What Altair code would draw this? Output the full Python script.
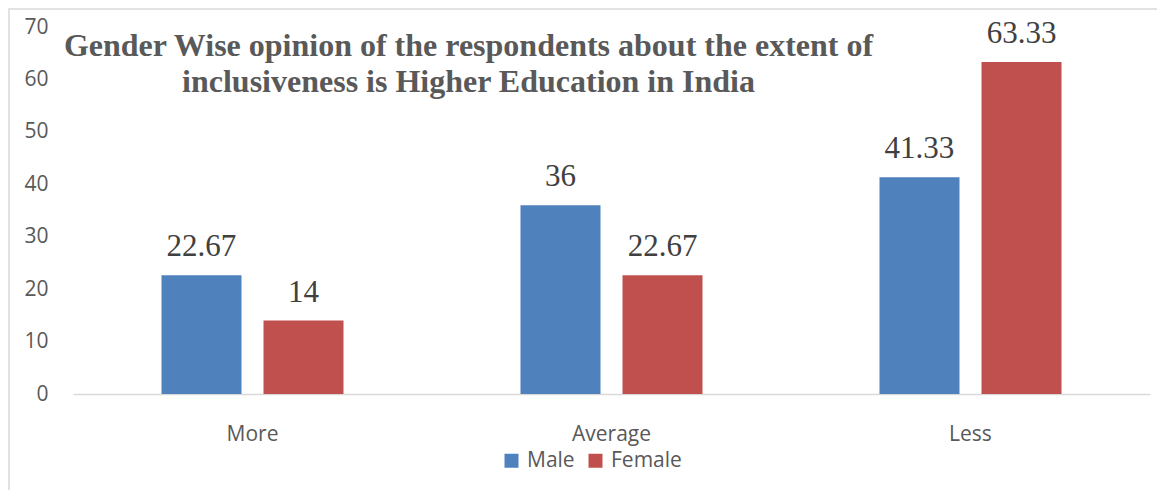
import altair as alt
import pandas as pd

categories = ["More", "Average", "Less"]
genders = ["Male", "Female"]
male_values = [22.67, 36, 41.33]
female_values = [14, 22.67, 63.33]
male_labels = ["22.67", "36", "41.33"]
female_labels = ["14", "22.67", "63.33"]
colors = ["#4F81BD", "#C0504D"]
title_lines = [
    "Gender Wise opinion of the respondents about the extent of",
    "inclusiveness is Higher Education in India",
]

rows = []
for i, c in enumerate(categories):
    rows.append({"category": c, "gender": "Male", "value": male_values[i], "label": male_labels[i]})
    rows.append({"category": c, "gender": "Female", "value": female_values[i], "label": female_labels[i]})
df = pd.DataFrame(rows)

W, H = 1077, 367

x_enc = alt.X("category:N", sort=categories, title=None,
              scale=alt.Scale(paddingInner=0.493, paddingOuter=0.2465),
              axis=alt.Axis(labelAngle=0, ticks=False, domainColor="#d9d9d9", domainWidth=1.5,
                            labelFont="Open Sans", labelFontSize=21, labelColor="#595959",
                            labelPadding=29, grid=False))
xo_enc = alt.XOffset("gender:N", sort=genders,
                     scale=alt.Scale(paddingInner=0.2157, paddingOuter=0))
y_enc = alt.Y("value:Q", title=None,
              scale=alt.Scale(domain=[0, 70], nice=False),
              axis=alt.Axis(values=list(range(0, 71, 10)), ticks=False, domain=False, grid=False,
                            labelFont="Open Sans", labelFontSize=21, labelColor="#595959",
                            labelPadding=25))

base = alt.Chart(df)

bars = base.mark_bar().encode(
    x=x_enc, xOffset=xo_enc, y=y_enc,
    color=alt.Color("gender:N", sort=genders,
                    scale=alt.Scale(domain=genders, range=colors),
                    legend=alt.Legend(title=None, orient="none", legendX=428, legendY=423,
                                      direction="horizontal", symbolType="square",
                                      symbolSize=196, symbolStrokeWidth=0,
                                      labelFont="Open Sans", labelFontSize=21,
                                      labelColor="#595959", columnPadding=10, labelOffset=5)),
)

labels = base.mark_text(font="Liberation Serif", fontSize=31, color="#404040",
                        baseline="alphabetic", dy=-19).encode(
    x=alt.X("category:N", sort=categories), xOffset=alt.XOffset("gender:N", sort=genders),
    y="value:Q", text="label:N")

border = alt.Chart(pd.DataFrame({"a": [0]})).mark_rect(
    fill=None, stroke="#d9d9d9", strokeWidth=1.5).encode(
    x=alt.value(-64), x2=alt.value(1300), y=alt.value(-18), y2=alt.value(700))

chart = alt.layer(border, bars, labels).properties(
    width=W, height=H,
    title=alt.TitleParams(text=title_lines, anchor="middle", frame="group", dx=-143, dy=91,
                          offset=0, baseline="top", font="Liberation Serif", fontSize=32,
                          fontWeight="bold", color="#595959", lineHeight=36),
    padding={"left": 65, "top": 19, "right": 7, "bottom": 96},
    autosize=alt.AutoSizeParams(type="none"),
).configure(background="white").configure_view(stroke=None)

chart.save("out.html", embed_options={"renderer": "svg", "actions": False})
